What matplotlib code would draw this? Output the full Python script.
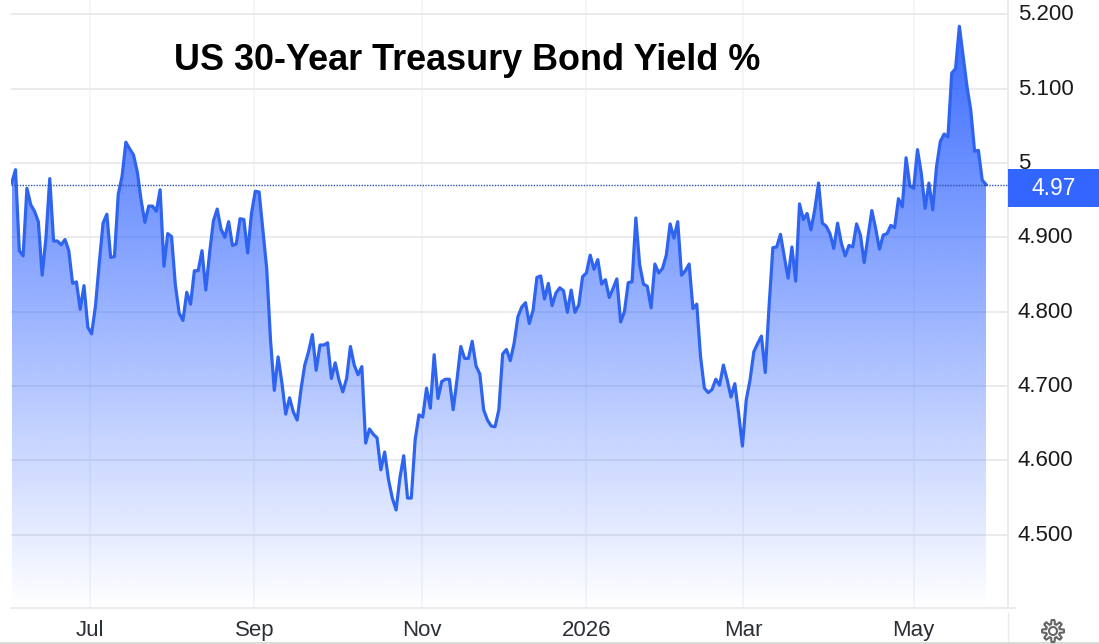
import numpy as np
import matplotlib
matplotlib.use("Agg")
import matplotlib.pyplot as plt
from matplotlib.patches import Rectangle, Polygon
from matplotlib.lines import Line2D
from matplotlib.transforms import ScaledTranslation

plt.rcParams['font.family'] = ['Liberation Sans', 'DejaVu Sans']

TITLE = "US 30-Year Treasury Bond Yield %"
LAST_VALUE = 4.97
LAST_LABEL = "4.97"

yields_2025_h1 = [
    4.973, 4.991, 4.882, 4.875, 4.966, 4.944, 4.935, 4.921, 4.849, 4.899, 4.979, 4.895, 4.895, 4.890, 4.897,
    4.882, 4.838, 4.840, 4.803, 4.835, 4.779, 4.770, 4.807, 4.865, 4.919, 4.931, 4.873, 4.874, 4.958, 4.982,
    5.028, 5.019, 5.011, 4.988, 4.950, 4.920, 4.942, 4.942, 4.935, 4.964, 4.861, 4.905, 4.901, 4.836, 4.798,
    4.788, 4.826, 4.810, 4.855, 4.855, 4.882, 4.829, 4.879, 4.922, 4.938, 4.911, 4.900, 4.921, 4.889, 4.891,
    4.925, 4.924, 4.879, 4.932, 4.962, 4.961, 4.910, 4.858, 4.762, 4.694, 4.739, 4.704, 4.662, 4.684, 4.665,
    4.654, 4.695, 4.728, 4.746, 4.769, 4.721, 4.755, 4.755, 4.758, 4.710, 4.731, 4.708,
]
yields_autumn = [
    4.692, 4.710, 4.753, 4.728, 4.715, 4.726, 4.623, 4.642, 4.635, 4.630, 4.587, 4.611, 4.574, 4.549, 4.533,
    4.576, 4.606, 4.549, 4.549, 4.627, 4.661, 4.658, 4.697, 4.670, 4.742, 4.683, 4.706, 4.709, 4.709, 4.668,
    4.708, 4.753, 4.737, 4.737, 4.760, 4.727, 4.716, 4.668, 4.654, 4.646, 4.645, 4.668, 4.743, 4.749, 4.734,
    4.757, 4.793, 4.806, 4.812, 4.784, 4.802, 4.846, 4.848, 4.817, 4.838, 4.808, 4.825, 4.832, 4.828, 4.799,
    4.829, 4.799, 4.809, 4.847, 4.852, 4.876, 4.857, 4.870, 4.837, 4.843, 4.819, 4.831, 4.844, 4.786, 4.800,
    4.839, 4.840, 4.926, 4.863, 4.837, 4.834, 4.805, 4.864, 4.852, 4.858, 4.876, 4.918, 4.899, 4.921,
]
yields_spring = [
    4.849, 4.855, 4.864, 4.804, 4.810, 4.739, 4.697, 4.691, 4.695, 4.709, 4.701, 4.728, 4.708, 4.685, 4.703,
    4.663, 4.619, 4.681, 4.708, 4.746, 4.757, 4.767, 4.718, 4.807, 4.886, 4.887, 4.904, 4.874, 4.845,
    4.887, 4.841, 4.945, 4.924, 4.932, 4.910, 4.937, 4.973, 4.919, 4.915, 4.905, 4.885, 4.919, 4.892, 4.875,
    4.889, 4.887, 4.918, 4.903, 4.866, 4.901, 4.936, 4.912, 4.884, 4.903, 4.905, 4.916, 4.913, 4.952, 4.941,
    5.007, 4.969, 4.966, 5.018, 4.986, 4.939, 4.973, 4.937, 4.995, 5.029, 5.039, 5.035, 5.121, 5.127, 5.184,
    5.143, 5.103, 5.071, 5.016, 5.017, 4.977, 4.971,
]
y_ticks = [5.2, 5.1, 5.0, 4.9, 4.8, 4.7, 4.6, 4.5]
y_tick_labels = ["5.200", "5.100", "5", "4.900", "4.800", "4.700", "4.600", "4.500"]
month_labels = ["Jul", "Sep", "Nov", "2026", "Mar", "May"]
# month starts, as position along the trading-day sequence (fraction of the span)
month_fraction = [0.0800, 0.2490, 0.4214, 0.5899, 0.7510, 0.9256]

yields = np.array(yields_2025_h1 + yields_autumn + yields_spring)
n = len(yields)
days = np.arange(n)

W, H = 1099, 644
fig = plt.figure(figsize=(W / 100, H / 100), dpi=100, facecolor="white")
AX_L, AX_R, AX_T, AX_B = 11.0, 1008.0, 0.0, 608.0
ax = fig.add_axes([AX_L / W, 1 - AX_B / H, (AX_R - AX_L) / W, (AX_B - AX_T) / H])
ax.set_facecolor("white")

step = (986.0 - 11.7) / (n - 1)
x_lo, x_hi = -(11.7 - AX_L) / step, (AX_R - 11.7) / step
ax.set_xlim(x_lo, x_hi)
val = lambda py: 5.0 - (py - 163.0) / 743.0
y_lo, y_hi = val(AX_B), val(AX_T)
ax.set_ylim(y_lo, y_hi)

GRID = "#e9e9ec"
VGRID = "#f0f2f7"
ax.set_yticks(y_ticks, y_tick_labels)
month_pos = [f * (n - 1) for f in month_fraction]
ax.set_xticks(month_pos, month_labels)
ax.yaxis.tick_right()
ax.tick_params(axis="y", length=0, pad=7.0, labelsize=16, labelcolor="#1a1a1a")
ax.tick_params(axis="x", length=0, pad=8.6, labelsize=16, labelcolor="#2b2f36")
ax.grid(axis="y", color=GRID, lw=1.3, zorder=1)
ax.grid(axis="x", color=VGRID, lw=1.1, zorder=1)
ax.set_axisbelow(True)
for s in ("top", "left"):
    ax.spines[s].set_visible(False)
for s in ("right", "bottom"):
    ax.spines[s].set_color(GRID)
    ax.spines[s].set_linewidth(1.3)
lift = ScaledTranslation(0, 2 / 100, fig.dpi_scale_trans)
for lbl in ax.get_yticklabels():
    lbl.set_transform(lbl.get_transform() + lift)

# gradient area
top_val, bot_val = val(25.0), val(608.0)
g = np.linspace(0, 1, 512)[:, None]
rgba = np.zeros((512, 1, 4))
rgba[..., 0] = 51 / 255
rgba[..., 1] = 102 / 255
rgba[..., 2] = 1.0
rgba[..., 3] = 0.97 * (1 - g)
im = ax.imshow(rgba, extent=[0, n - 1, bot_val, top_val], aspect="auto", zorder=2, interpolation="bilinear")
poly = Polygon(np.column_stack([np.r_[0, days, n - 1], np.r_[bot_val, yields, bot_val]]),
               closed=True, transform=ax.transData, fc="none", ec="none")
ax.add_patch(poly)
im.set_clip_path(poly)
ax.set_xlim(x_lo, x_hi)
ax.set_ylim(y_lo, y_hi)

ax.plot(days, yields, color="#2f64f0", lw=2.3, zorder=3, solid_joinstyle="round")
ax.axhline(LAST_VALUE, color="#2a50b0", lw=1.0, ls=(0, (1, 1)), zorder=4)

fig.text(467 / W, 1 - 60.5 / H, TITLE, fontsize=25.9, fontweight="bold", color="black",
         ha="center", va="center", zorder=10)

# helpers in pixel space for the chrome around the plot
fx = lambda px: px / W
fy = lambda py: 1 - py / H
fig.add_artist(Rectangle((fx(1008), fy(207)), 91 / W, 38 / H, fc="#3366ff", ec="none",
                         transform=fig.transFigure, zorder=8))
fig.text(fx(1054), fy(188.5), LAST_LABEL, color="white", fontsize=16.5, ha="center", va="center", zorder=9)
fig.add_artist(Line2D([fx(1008), fx(1015)], [fy(608), fy(608)], color=GRID, lw=1.3))
fig.add_artist(Line2D([fx(1008), fx(1008)], [fy(613), fy(641)], color=GRID, lw=1.0))
fig.add_artist(Rectangle((0, 0), 1, 2.5 / H, fc="#d9dcd9", ec="none", transform=fig.transFigure))

# settings gear
theta = np.linspace(0, 2 * np.pi, 721)
radius = 9.0 + 2.0 * np.clip(2.0 * np.cos(8 * theta), -1, 1)
gx = 1053 + radius * np.sin(theta)
gy = 631 + radius * np.cos(theta)
fig.add_artist(Line2D(fx(gx), fy(gy), color="#666666", lw=1.5))
hx = 1053 + 4.0 * np.cos(theta)
hy = 631 + 4.0 * np.sin(theta)
fig.add_artist(Line2D(fx(hx), fy(hy), color="#666666", lw=1.5))

fig.savefig("out.png", dpi=100, facecolor="white")
